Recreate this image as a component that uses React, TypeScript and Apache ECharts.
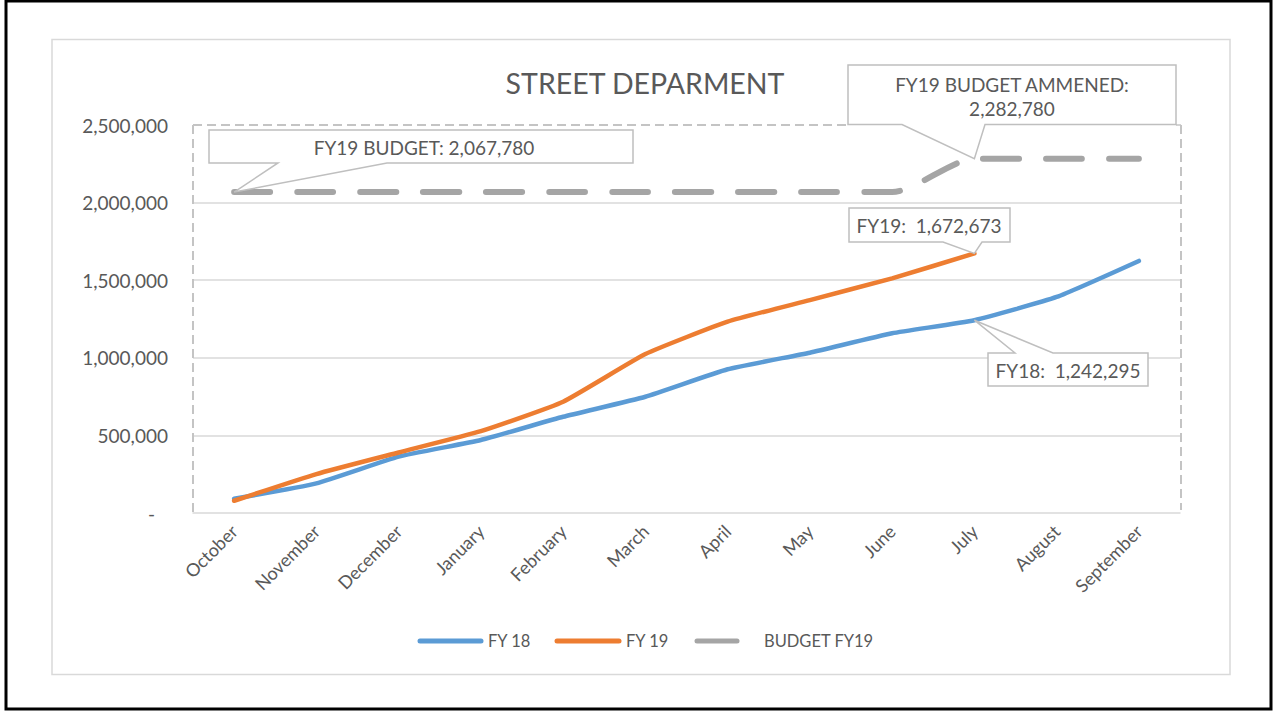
import { useEffect, useRef } from "react";
import * as echarts from "echarts";

const months = ["October", "November", "December", "January", "February", "March", "April", "May", "June", "July", "August", "September"];
const fy18 = [92000, 191000, 363000, 470000, 620000, 749000, 926000, 1033000, 1158000, 1242295, 1392000, 1624000];
const fy19 = [79000, 251000, 390000, 527000, 717000, 1024000, 1233000, 1372000, 1512000, 1672673];
const budgetFy19 = [2067780, 2067780, 2067780, 2067780, 2067780, 2067780, 2067780, 2067780, 2067780, 2282780, 2282780, 2282780];
const yMax = 2500000;
const yStep = 500000;
const seriesNames = ["FY 18", "FY 19", "BUDGET FY19"];
const calloutTexts = ["FY19 BUDGET: 2,067,780", "FY19 BUDGET AMMENED:\n2,282,780", "FY19:  1,672,673", "FY18:  1,242,295"];

const FONT = "Lato, 'Open Sans', sans-serif";
const TXT = "#595959";
const BLUE = "#5b9bd5";
const ORANGE = "#ed7d31";
const GREY = "#a5a5a5";
const BOX = "#bfbfbf";

export default function App() {
  const ref = useRef<HTMLDivElement>(null);
  useEffect(() => {
    if (!ref.current) return;
    const chart = echarts.init(ref.current, null, { renderer: "svg" });
    const gl = 193, gr = 1180, gt = 125, gb = 513;
    chart.setOption({
      animation: false,
      backgroundColor: "#ffffff",
      textStyle: { fontFamily: FONT },
      title: {
        text: "STREET DEPARMENT",
        left: 640,
        top: 63,
        textAlign: "center",
        textStyle: { fontFamily: FONT, fontSize: 28.5, fontWeight: "normal", color: TXT },
      },
      grid: { left: gl, right: 1276 - gr, top: gt, bottom: 713 - gb, containLabel: false },
      xAxis: {
        type: "category",
        data: months,
        boundaryGap: true,
        axisTick: { show: false },
        axisLine: { show: true, lineStyle: { color: "#d9d9d9", width: 1.5 } },
        axisLabel: { rotate: 45, interval: 0, fontSize: 18, color: TXT, fontFamily: FONT, margin: 15 },
        splitLine: { show: false },
      },
      yAxis: {
        type: "value",
        min: 0,
        max: yMax,
        interval: yStep,
        axisLine: { show: false },
        axisTick: { show: false },
        axisLabel: {
          fontSize: 19,
          color: TXT,
          fontFamily: FONT,
          margin: 25,
          formatter: (v: number) => (v === 0 ? "{z|-}" : v.toLocaleString("en-US")),
          rich: { z: { fontSize: 19, color: TXT, fontFamily: FONT, padding: [0, 13, 0, 0] } },
        },
        splitLine: { show: true, showMinLine: false, showMaxLine: false, lineStyle: { color: "#d9d9d9", width: 1.5 } },
      },
      series: [
        {
          name: seriesNames[0], type: "line", data: fy18, symbol: "none", smooth: 0.15,
          lineStyle: { color: BLUE, width: 4.5, cap: "round" }, z: 3,
        },
        {
          name: seriesNames[1], type: "line", data: fy19, symbol: "none", smooth: 0.15,
          lineStyle: { color: ORANGE, width: 4.5, cap: "round" }, z: 4,
        },
        {
          name: seriesNames[2], type: "line", data: budgetFy19, symbol: "none", smooth: 0.25,
          lineStyle: { color: GREY, width: 6, type: [36, 27], cap: "round" }, z: 2,
        },
      ],
    });

    const px = (i: number, v: number) => chart.convertToPixel({ gridIndex: 0 }, [i, v]) as number[];
    const pBud = px(0, budgetFy19[0]);
    const pAmd = px(9, budgetFy19[9]);
    const p19 = px(9, fy19[9]);
    const p18 = px(9, fy18[9]);

    const textStyle = (x: number, y: number, t: string) => ({
      type: "text",
      x, y, z: 21,
      style: { text: t, fill: TXT, font: `19px ${FONT}`, align: "center", verticalAlign: "middle", lineHeight: 24 },
    });
    const poly = (pts: number[][]) => ({
      type: "polygon", z: 20,
      shape: { points: pts },
      style: { fill: "#ffffff", stroke: BOX, lineWidth: 1.5 },
    });
    const dash = (x1: number, y1: number, x2: number, y2: number) => ({
      type: "line", z: 1, silent: true,
      shape: { x1, y1, x2, y2 },
      style: { stroke: "#c4c4c4", lineWidth: 2, lineDash: [9, 5] },
    });
    const legendLine = (x1: number, x2: number, c: string) => ({
      type: "line", z: 5,
      shape: { x1, y1: 641, x2, y2: 641 },
      style: { stroke: c, lineWidth: 5, lineCap: "round" },
    });
    const legendText = (x: number, t: string) => ({
      type: "text", x, y: 641, z: 5,
      style: { text: t, fill: TXT, font: `16.5px ${FONT}`, align: "left", verticalAlign: "middle" },
    });

    chart.setOption({
      graphic: [
        { type: "rect", z: 0, shape: { x: 6, y: 1, width: 1265, height: 708 }, style: { fill: "none", stroke: "#000000", lineWidth: 3 } },
        { type: "rect", z: 0, shape: { x: 52, y: 39.5, width: 1178, height: 635 }, style: { fill: "none", stroke: "#d9d9d9", lineWidth: 1.5 } },
        dash(gl, gt, gl, gb),
        dash(gl, gt, 848, gt),
        dash(gr + 1, gt, gr + 1, gb - 3),
        { type: "line", z: 1, shape: { x1: 1176, y1: gt, x2: gr + 1, y2: gt }, style: { stroke: "#c4c4c4", lineWidth: 1.5 } },
        poly([[209, 130], [633, 130], [633, 163], [387, 163], [pBud[0], pBud[1]], [278, 163], [209, 163]]),
        textStyle(424, 147, calloutTexts[0]),
        poly([[848, 65], [1176, 65], [1176, 124.5], [985, 124.5], [pAmd[0], pAmd[1]], [902, 124.5], [848, 124.5]]),
        textStyle(1012, 96, calloutTexts[1]),
        poly([[849, 208], [1010, 208], [1010, 242], [982, 242], [p19[0], p19[1]], [943, 242], [849, 242]]),
        textStyle(929, 225, calloutTexts[2]),
        poly([[988, 353], [1015, 353], [p18[0], p18[1]], [1053, 353], [1148, 353], [1148, 386], [988, 386]]),
        textStyle(1068, 370, calloutTexts[3]),
        legendLine(420, 481, BLUE),
        legendText(488, seriesNames[0]),
        legendLine(557, 619, ORANGE),
        legendText(626, seriesNames[1]),
        legendLine(697, 737, GREY),
        legendText(764, seriesNames[2]),
      ],
    });
    return () => chart.dispose();
  }, []);
  return <div ref={ref} style={{ position: "fixed", left: 0, top: 0, width: 1276, height: 713 }} />;
}
